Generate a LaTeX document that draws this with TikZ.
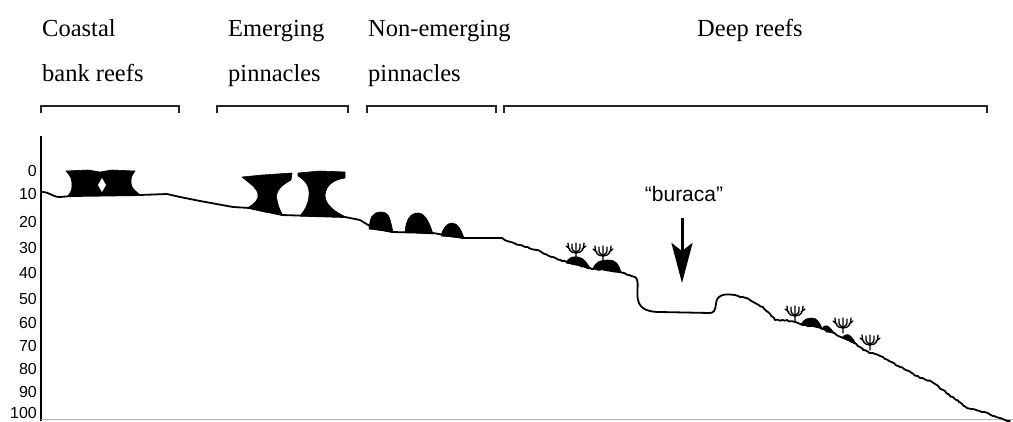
\documentclass[tikz,border=0pt]{standalone}
\usepackage{fontspec}
\setmainfont{Liberation Serif}
\setsansfont{Liberation Sans}
\usetikzlibrary{arrows.meta,decorations.pathmorphing}

\begin{document}
\begin{tikzpicture}[x=1pt,y=-1pt,
  header/.style={anchor=base west, inner sep=0pt, font=\fontsize{24.5}{28}\selectfont},
  depthlabel/.style={anchor=east, inner sep=0pt, font=\sffamily\fontsize{16}{18}\selectfont},
  floor/.style={line width=1.8pt, line join=round, line cap=round},
  rough/.style={floor, decorate, decoration={random steps, segment length=2.5pt, amplitude=0.8pt}},
  reef/.style={fill=black, draw=black, line width=0.6pt, line join=round},
  bracket/.style={line width=1.8pt, draw=black!85},
  coral/.pic={
    \draw[line width=1.3pt, line cap=round]
      (0,0) -- (0,-5)
      (0,-5) .. controls (-6,-5) and (-8,-9) .. (-8,-15)
      (0,-5) .. controls (6,-5) and (8,-9) .. (8,-15)
      (-1,-6) .. controls (-4,-8) .. (-4,-14)
      (0,-5) -- (0,-15)
      (1,-6) .. controls (4,-8) .. (4,-14)
      (-6,-9) -- (-10,-12)
      (6,-9) -- (10,-12);
  }
]
\useasboundingbox (0,0) rectangle (1013,421);

% zone headers
\node[header] (h1a) at (42,36.5) {Coastal};
\node[header] (h1b) at (42,81) {bank reefs};
\node[header] (h2a) at (228,36.5) {Emerging};
\node[header] (h2b) at (228,81) {pinnacles};
\node[header] (h3a) at (368,36.5) {Non-emerging};
\node[header] (h3b) at (368,81) {pinnacles};
\node[header] (h4a) at (697,36.5) {Deep reefs};

% zone brackets
\draw[bracket] (41,113) -- (41,106) -- (179,106) -- (179,113);
\draw[bracket] (217,113) -- (217,106) -- (348,106) -- (348,113);
\draw[bracket] (367,113) -- (367,106) -- (496,106) -- (496,113);
\draw[bracket] (504,113) -- (504,106) -- (987,106) -- (987,113);

% depth axis
\draw[line width=1.8pt] (41,136) -- (41,421);
\draw[gray!60, line width=1pt] (41,419) -- (1013,419);
\foreach \d/\yy in {0/171,10/194,20/222,30/248,40/273,50/299,60/323,70/346,80/369,90/392,100/413}
  \node[depthlabel] (d\d) at (37,\yy) {\d};

% coastal bank reef
\fill[reef] (66,171) -- (88,170) -- (100,172) -- (112,170) -- (135,171)
  .. controls (131,177) .. (131,183) .. controls (132,188) .. (140,195)
  -- (68,196) .. controls (72,190) .. (72,183) .. controls (71,177) .. (66,171) -- cycle;
\fill[white] (102,178) -- (106,185) -- (102,192) -- (98,185) -- cycle;

% emerging pinnacles
\fill[reef] (242,177) -- (262,175) -- (292,173) -- (291,180)
  .. controls (280,186) and (275,192) .. (277,200)
  .. controls (278,206) and (280,210) .. (282,214) -- (265,212) -- (247,208)
  .. controls (255,204) and (259,199) .. (258,194)
  .. controls (257,188) and (248,182) .. (242,177) -- cycle;
\fill[reef] (298,173) -- (320,171) -- (345,172) -- (345,178)
  .. controls (332,180) and (326,186) .. (325,195)
  .. controls (325,205) and (335,212) .. (346,217) -- (300,216)
  .. controls (305,210) and (308,205) .. (309,196)
  .. controls (310,186) and (305,180) .. (298,176) -- cycle;

% non-emerging pinnacles
\fill[reef] (369,229) .. controls (370,218) and (372,212) .. (381,212)
  .. controls (390,212) and (390,220) .. (393,232) -- cycle;
\fill[reef] (405,232) .. controls (406,220) and (410,213) .. (418,213)
  .. controls (426,213) and (430,225) .. (433,234) -- cycle;
\fill[reef] (441,236) .. controls (443,228) and (447,223) .. (452,223)
  .. controls (458,223) and (461,230) .. (464,238) -- cycle;

% deep reef patches
\fill[reef] (566,263) .. controls (568,258) and (572,256) .. (578,257)
  .. controls (584,258) and (586,262) .. (590,268) -- cycle;
\fill[reef] (593,268) .. controls (596,262) and (600,260) .. (608,260)
  .. controls (616,260) and (619,264) .. (621,273) -- cycle;
\fill[reef] (801,325) .. controls (803,319) and (808,318) .. (812,318)
  .. controls (817,318) and (819,322) .. (822,328) -- cycle;
\fill[reef] (822,329) .. controls (824,324) and (828,324) .. (834,333) -- cycle;
\fill[reef] (842,338) .. controls (845,333) and (850,332) .. (856,344) -- cycle;

% branching corals
\pic at (576,258) {coral};
\pic at (603,261) {coral};
\pic at (795,321) {coral};
\pic at (843,333) {coral};
\pic at (870,350) {coral};

% sea floor profile
\pgfmathsetseed{4}
\draw[floor] (42,192) .. controls (50,192) and (52,197) .. (60,197) -- (72,196)
  -- (140,195) -- (167,194) -- (180,197) -- (200,201) -- (233,207) -- (250,208)
  -- (282,215) -- (345,217) -- (360,220) -- (373,228) -- (392,232) -- (433,233)
  -- (463,238) -- (500,238);
\draw[rough] (500,238) -- (520,245) -- (537,250) -- (553,257) -- (567,262)
  -- (590,268) -- (620,272) -- (635,277);
\draw[floor] (635,277) .. controls (640,280) and (636,292) .. (638,300)
  .. controls (640,310) and (650,312) .. (660,312) -- (710,313)
  .. controls (718,313) and (714,300) .. (719,297)
  .. controls (722,294) and (728,294) .. (735,295);
\draw[rough] (735,295) -- (750,300) -- (763,307) -- (775,320) -- (787,320)
  -- (803,325) -- (817,327) -- (830,332) -- (850,340) -- (863,350) -- (883,357)
  -- (900,367) -- (920,378) -- (932,382) -- (943,390) -- (967,408) -- (983,412)
  -- (1000,418) -- (1010,421);

% buraca marker
\node[inner sep=0pt, anchor=base, font=\sffamily\fontsize{21}{24}\selectfont] (buraca) at (684,201.5) {“buraca”};
\coordinate (arrtop) at (682,218);
\coordinate (arrtip) at (682,283);
\draw[line width=3pt, -{Stealth[length=40pt, width=21pt, inset=8pt]}] (arrtop) -- (arrtip);
\end{tikzpicture}
\end{document}
